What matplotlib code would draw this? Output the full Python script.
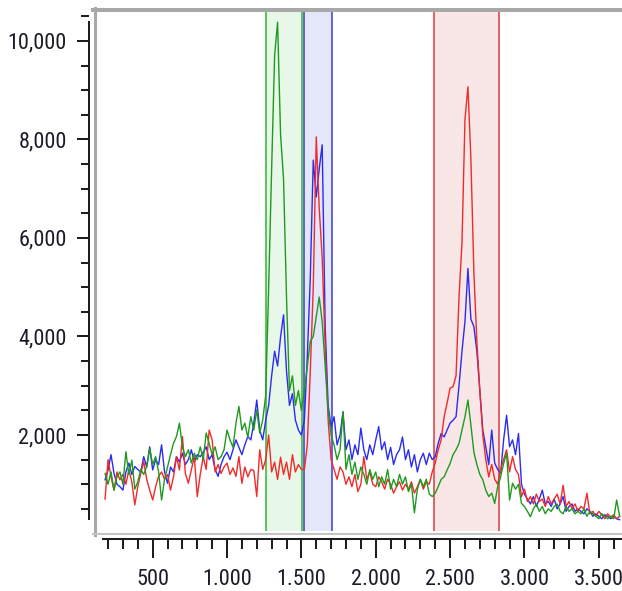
import matplotlib
matplotlib.use("Agg")
import matplotlib.pyplot as plt
import numpy as np
from matplotlib import font_manager
from matplotlib.font_manager import FontProperties
from matplotlib.lines import Line2D
from matplotlib.ticker import FuncFormatter, MultipleLocator

# channel axis of the spectra (one sample every 20 units)
channel = np.arange(180, 3660, 20)

red = [
    700, 1500, 1150, 880, 1250, 1090, 1200, 1000, 1290, 1050,
    580, 950, 1220, 1460, 1100, 880, 680, 950, 1160, 1250,
    1100, 1200, 880, 1150, 1560, 1290, 1970, 1220, 1020, 1290,
    1560, 750, 1200, 1560, 1300, 2100, 1900, 1250, 1400, 1220,
    1350, 1430, 1200, 1330, 1160, 1560, 1020, 1350, 1150, 1300,
    1280, 750, 1700, 1300, 1500, 2000, 1250, 1450, 1100, 1550,
    1200, 1450, 1100, 1600, 1250, 1400, 1300, 1300, 1800, 3300,
    5000, 8050, 6600, 5600, 3800, 2300, 1500, 1300, 1100, 1350,
    1250, 1000, 1150, 950, 1200, 850, 1000, 1560, 1100, 1250,
    1000, 950, 1150, 1050, 900, 1100, 1000, 820, 950, 1050,
    880, 1000, 900, 1050, 820, 950, 1100, 900, 1050, 1000,
    1250, 1430, 1700, 1900, 2370, 2650, 2950, 2980, 3200, 4800,
    5900, 8400, 9070, 7600, 5300, 3900, 2900, 2000, 1500, 1150,
    1400, 1100, 1000, 1300, 1500, 1700, 1250, 1560, 1300, 1200,
    750, 900, 650, 750, 600, 800, 650, 700, 550, 750,
    600, 700, 800, 600, 980, 550, 650, 500, 600, 450,
    550, 500, 820, 400, 450, 350, 450, 380, 300, 400,
    330, 380, 300, 350,
]

green = [
    1220, 1000, 1250, 880, 1150, 1250, 1000, 1660, 1200, 1490,
    900, 1050, 1300, 1200, 1360, 1730, 1400, 1560, 1250, 680,
    1100, 1350, 1600, 1830, 1970, 2240, 1760, 1560, 1700, 1430,
    1630, 1500, 1760, 1500, 2040, 1830, 1600, 1760, 1500, 1560,
    1700, 2100, 1900, 1750, 2240, 2580, 2100, 2240, 1950, 2370,
    2100, 2510, 2040, 2300, 2800, 5000, 7400, 9700, 10380, 8100,
    7200, 4800, 2900, 3200, 2600, 2900, 2500, 2900, 3400, 3900,
    4000, 4400, 4800, 4300, 3400, 2500, 2000, 1800, 1500, 1700,
    2470, 1300, 1600, 1200, 1450, 1100, 1350, 1200, 1000, 1300,
    1100, 1250, 950, 1150, 1000, 1300, 900, 1100, 950, 1200,
    1000, 1150, 850, 1000, 420, 900, 1100, 950, 1100, 800,
    750, 820, 950, 1100, 1150, 1290, 1420, 1600, 1700, 1830,
    2100, 2370, 2710, 2200, 1650, 1400, 1200, 1090, 880, 750,
    820, 610, 950, 1150, 1420, 1630, 680, 1020, 900, 1000,
    610, 550, 450, 340, 500, 600, 450, 550, 400, 500,
    450, 550, 600, 450, 400, 550, 450, 500, 400, 450,
    400, 500, 350, 450, 400, 350, 300, 400, 350, 300,
    350, 300, 680, 350,
]

blue = [
    1090, 1290, 1600, 1220, 1000, 950, 880, 1250, 1430, 1200,
    1360, 1300, 1250, 1560, 1350, 1760, 1290, 1500, 1400, 1800,
    1250, 1020, 1350, 1250, 1560, 1450, 1630, 1400, 1500, 1700,
    1450, 1600, 1560, 1650, 1760, 1500, 1600, 1300, 1160, 1400,
    1560, 1650, 1500, 1700, 1900, 1750, 1600, 1800, 1970, 1900,
    2240, 2710, 2100, 1900, 2300, 2600, 3200, 3700, 3400, 3990,
    4440, 3300, 2600, 2840, 2300, 2100, 2000, 2300, 3600, 5200,
    7580, 6830, 7400, 7890, 4200, 2600, 2160, 2370, 1800, 2000,
    2470, 1700, 1900, 1500, 1800, 1600, 2140, 1700, 1500, 1800,
    1600, 1900, 2170, 1700, 1860, 1500, 1750, 1400, 1600, 1700,
    1960, 1500, 1700, 1350, 1600, 1250, 1500, 1630, 1400, 1630,
    1500, 1560, 1830, 2030, 1960, 2100, 2240, 2300, 2370, 3000,
    3700, 4300, 5380, 4350, 4200, 3700, 2900, 2100, 1760, 1400,
    2100, 1430, 1300, 1220, 1900, 2400, 1760, 1900, 1600, 2030,
    1000, 800, 700, 600, 750, 550, 700, 880, 600, 650,
    550, 700, 500, 600, 750, 450, 550, 600, 450, 500,
    450, 400, 500, 450, 350, 400, 350, 300, 380, 350,
    300, 350, 300, 280,
]

# highlighted windows (start, end)
green_band = (1260, 1502)
blue_band = (1520, 1706)
red_band = (2390, 2829)

assert len(red) == len(green) == len(blue) == len(channel)


def pick_tick_font():
    """Prefer a narrow sans face, like the original's condensed labels."""
    entries = font_manager.fontManager.ttflist
    wanted = ["Liberation Sans Narrow", "DejaVu Sans Condensed",
              "Noto Sans Condensed", "Roboto Condensed",
              "Open Sans Condensed"]
    for name in wanted:
        for f in entries:
            if f.name == name and f.weight in (400, "normal", "regular") \
                    and f.style == "normal":
                return FontProperties(fname=f.fname), 16
    for f in entries:
        if f.name in ("Noto Sans", "Roboto", "Open Sans", "DejaVu Sans") \
                and str(f.stretch) in ("condensed", "semi-condensed") \
                and f.weight in (400, "normal", "regular") \
                and f.style == "normal":
            return FontProperties(fname=f.fname), 16
    return FontProperties(family="Liberation Sans"), 14


tick_prop, tick_size = pick_tick_font()

W, H = 622, 591
fig = plt.figure(figsize=(W / 100, H / 100), dpi=100)
ax = fig.add_axes([96 / W, 1 - 531 / H, 526 / W, 519 / H])
ax.set_xlim(119, 3656)
ax.set_ylim(51, 10586)

for (lo, hi), fill, edge in [
    (green_band, "#e8f8e8", "#2fb52f"),
    (blue_band, "#e4e6fa", "#3c3cd0"),
    (red_band, "#f9e7e7", "#d93c3c"),
]:
    ax.axvspan(lo, hi, color=fill, lw=0, zorder=0)
    ax.axvline(lo, color=edge, lw=1.1, zorder=1)
    ax.axvline(hi, color=edge, lw=1.1, zorder=1)

ax.plot(channel, blue, color="#2b2bf2", lw=1.0, zorder=2)
ax.plot(channel, red, color="#f22a2a", lw=1.0, zorder=3)
ax.plot(channel, green, color="#1f9a1f", lw=1.0, zorder=4)


# grey frame around the plot area
def px_line(x0, y0, x1, y1, **kw):
    fig.add_artist(Line2D([x0 / W, x1 / W], [1 - y0 / H, 1 - y1 / H],
                          transform=fig.transFigure, **kw))


px_line(93, 9.5, W, 9.5, color="#a8a8a8", lw=2.9)
px_line(94.5, 8, 94.5, 535, color="#a8a8a8", lw=2.2)
px_line(93, 534, W, 534, color="#c4c4c4", lw=1.5)

for side in ("top", "right"):
    ax.spines[side].set_visible(False)
ax.spines["left"].set_position(("outward", 5.0))
ax.spines["bottom"].set_position(("outward", 6.0))
ax.spines["left"].set_bounds(295, 10386)
ax.spines["bottom"].set_bounds(165, 3656)
for side in ("left", "bottom"):
    ax.spines[side].set_linewidth(1.45)
    ax.spines[side].set_color("#1e1e1e")

ax.yaxis.set_major_locator(MultipleLocator(2000))
ax.yaxis.set_minor_locator(MultipleLocator(500))
ax.xaxis.set_major_locator(MultipleLocator(500))
ax.xaxis.set_minor_locator(MultipleLocator(100))
ax.yaxis.set_major_formatter(FuncFormatter(lambda v, p: f"{int(v):,}"))
ax.xaxis.set_major_formatter(
    FuncFormatter(lambda v, p: f"{int(v):,}".replace(",", ".")))

ax.tick_params(axis="y", which="major", length=9, width=1.45, pad=7,
               color="#1e1e1e")
ax.tick_params(axis="y", which="minor", length=5.5, width=1.45,
               color="#1e1e1e")
ax.tick_params(axis="x", which="major", length=13.7, width=1.45, pad=7.5,
               color="#1e1e1e")
ax.tick_params(axis="x", which="minor", length=7.2, width=1.45,
               color="#1e1e1e")
for lab in ax.get_xticklabels() + ax.get_yticklabels():
    lab.set_fontproperties(tick_prop)
    lab.set_fontsize(tick_size)
    lab.set_color("#1c1c28")

fig.savefig("out.png", dpi=100)
